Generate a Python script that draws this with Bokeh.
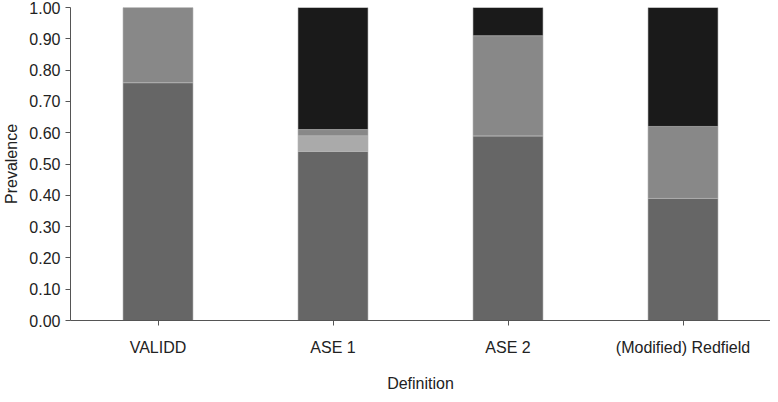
from bokeh.plotting import figure
from bokeh.models import FactorRange, NumeralTickFormatter, FixedTicker, ColumnDataSource
from bokeh.embed import file_html
from bokeh.resources import INLINE

categories = ["VALIDD", "ASE 1", "ASE 2", "(Modified) Redfield"]
series_a = [0.76, 0.54, 0.59, 0.39]
series_b = [0.00, 0.05, 0.00, 0.00]
series_c = [0.24, 0.02, 0.32, 0.23]
series_d = [0.00, 0.39, 0.09, 0.38]
y_ticks = [0.0, 0.1, 0.2, 0.3, 0.4, 0.5, 0.6, 0.7, 0.8, 0.9, 1.0]

names = ["a", "b", "c", "d"]
colors = ["#666666", "#aaaaaa", "#888888", "#1a1a1a"]
source = ColumnDataSource(dict(cat=categories, a=series_a, b=series_b, c=series_c, d=series_d))

p = figure(x_range=FactorRange(*categories), y_range=(0, 1), width=770, height=394,
           output_backend="svg", toolbar_location=None,
           min_border_left=62, min_border_right=0, min_border_top=7, min_border_bottom=0)
p.outline_line_color = None
p.xgrid.grid_line_color = None
p.ygrid.grid_line_color = None

p.vbar_stack(names, x="cat", width=0.4, source=source, color=colors,
             line_color="#b5b5b5", line_width=0.6)

font = "Liberation Sans"
p.yaxis.ticker = FixedTicker(ticks=y_ticks)
p.yaxis.formatter = NumeralTickFormatter(format="0.00")
p.yaxis.axis_label = "Prevalence"
p.xaxis.axis_label = "Definition"
for ax in (p.xaxis, p.yaxis):
    ax.axis_line_color = "#555555"
    ax.major_tick_line_color = "#555555"
    ax.minor_tick_line_color = None
    ax.major_tick_in = 0
    ax.major_tick_out = 5
    ax.major_label_text_font = font
    ax.major_label_text_font_size = "16px"
    ax.major_label_text_color = "#222222"
    ax.axis_label_text_font = font
    ax.axis_label_text_font_size = "16px"
    ax.axis_label_text_font_style = "normal"
    ax.axis_label_text_color = "#222222"
p.yaxis.axis_label_standoff = 6
p.yaxis.major_label_standoff = 5
p.xaxis.axis_label_standoff = 16
p.xaxis.major_label_standoff = 13

open("out.html", "w").write(file_html(p, INLINE))
